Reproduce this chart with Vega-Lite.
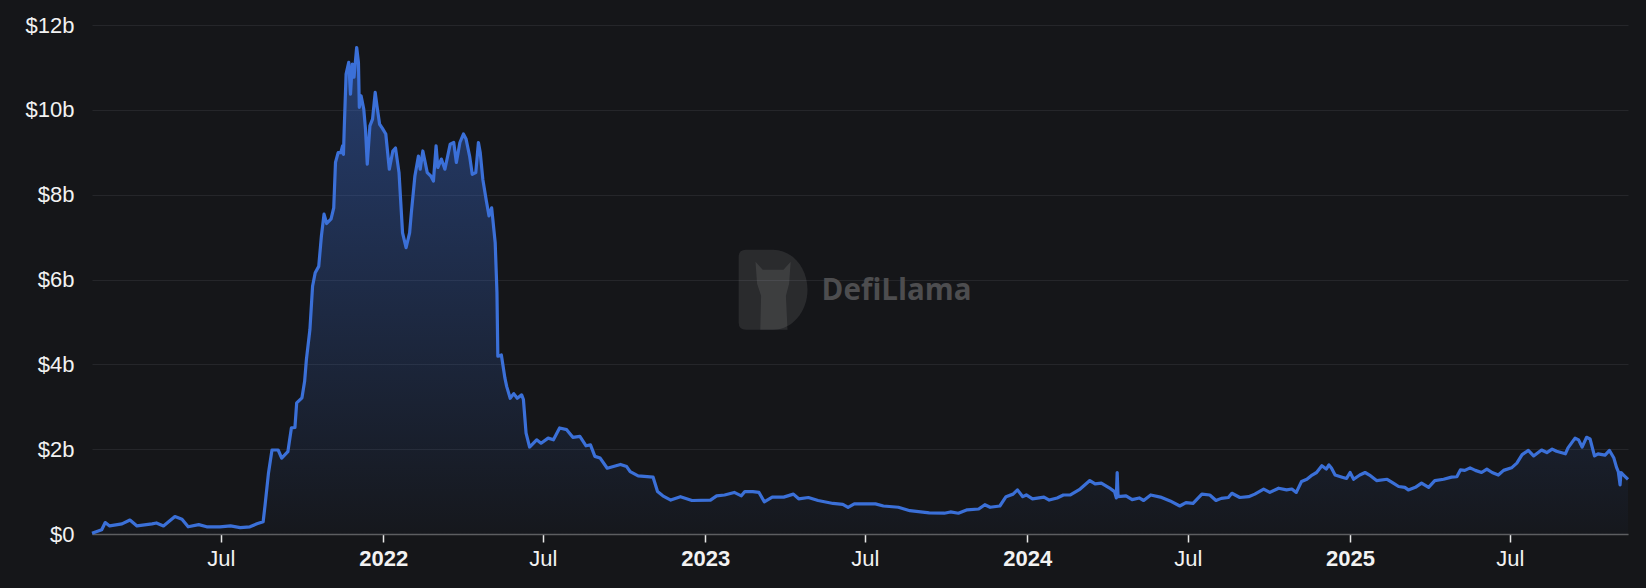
{
  "$schema": "https://vega.github.io/schema/vega-lite/v6.json",
  "autosize": {"type": "none"},
  "width": 1536,
  "height": 509,
  "padding": {"left": 92, "top": 25, "right": 18, "bottom": 54},
  "background": "#151619",
  "config": {"view": {"stroke": null}, "font": "Liberation Sans"},
  "data": {"values": [
    {"date":"2021-02-05","tvl":0.02},{"date":"2021-02-16","tvl":0.10},{"date":"2021-02-20","tvl":0.27},{"date":"2021-02-25","tvl":0.19},{"date":"2021-03-11","tvl":0.24},{"date":"2021-03-20","tvl":0.33},{"date":"2021-03-28","tvl":0.19},{"date":"2021-04-14","tvl":0.24},{"date":"2021-04-19","tvl":0.26},{"date":"2021-04-27","tvl":0.19},{"date":"2021-05-10","tvl":0.41},{"date":"2021-05-18","tvl":0.35},{"date":"2021-05-25","tvl":0.17},{"date":"2021-06-06","tvl":0.22},{"date":"2021-06-15","tvl":0.17},{"date":"2021-06-30","tvl":0.17},{"date":"2021-07-12","tvl":0.19},{"date":"2021-07-23","tvl":0.15},{"date":"2021-08-03","tvl":0.17},{"date":"2021-08-11","tvl":0.24},{"date":"2021-08-18","tvl":0.29},{"date":"2021-08-20","tvl":0.65},{"date":"2021-08-24","tvl":1.43},{"date":"2021-08-28","tvl":1.98},
    {"date":"2021-09-04","tvl":1.98},{"date":"2021-09-08","tvl":1.79},{"date":"2021-09-15","tvl":1.94},{"date":"2021-09-19","tvl":2.50},{"date":"2021-09-23","tvl":2.51},{"date":"2021-09-25","tvl":3.09},{"date":"2021-10-01","tvl":3.21},{"date":"2021-10-04","tvl":3.6},{"date":"2021-10-06","tvl":4.11},{"date":"2021-10-10","tvl":4.82},{"date":"2021-10-13","tvl":5.84},{"date":"2021-10-16","tvl":6.16},{"date":"2021-10-20","tvl":6.31},{"date":"2021-10-23","tvl":7.02},{"date":"2021-10-26","tvl":7.54},{"date":"2021-10-29","tvl":7.32},{"date":"2021-11-03","tvl":7.43},{"date":"2021-11-06","tvl":7.69},{"date":"2021-11-08","tvl":8.76},{"date":"2021-11-11","tvl":8.99},{"date":"2021-11-14","tvl":8.99},{"date":"2021-11-16","tvl":9.15},{"date":"2021-11-17","tvl":8.95},{"date":"2021-11-18","tvl":9.62},{"date":"2021-11-20","tvl":10.84},{"date":"2021-11-23","tvl":11.12},{"date":"2021-11-25","tvl":10.37},{"date":"2021-11-27","tvl":11.08},{"date":"2021-11-29","tvl":10.77},{"date":"2021-12-02","tvl":11.47},{"date":"2021-12-04","tvl":11.12},{"date":"2021-12-05","tvl":10.06},{"date":"2021-12-07","tvl":10.33},{"date":"2021-12-10","tvl":10.02},{"date":"2021-12-12","tvl":9.54},{"date":"2021-12-14","tvl":8.72},{"date":"2021-12-17","tvl":9.62},{"date":"2021-12-20","tvl":9.78},{"date":"2021-12-23","tvl":10.41},{"date":"2021-12-25","tvl":10.09},{"date":"2021-12-28","tvl":9.66},{"date":"2021-12-31","tvl":9.57},
    {"date":"2022-01-04","tvl":9.43},{"date":"2022-01-08","tvl":8.6},{"date":"2022-01-12","tvl":9.03},{"date":"2022-01-15","tvl":9.1},{"date":"2022-01-19","tvl":8.52},{"date":"2022-01-23","tvl":7.10},{"date":"2022-01-27","tvl":6.75},{"date":"2022-01-31","tvl":7.10},{"date":"2022-02-02","tvl":7.58},{"date":"2022-02-06","tvl":8.44},{"date":"2022-02-10","tvl":8.91},{"date":"2022-02-12","tvl":8.6},{"date":"2022-02-15","tvl":9.03},{"date":"2022-02-20","tvl":8.52},{"date":"2022-02-24","tvl":8.44},{"date":"2022-02-27","tvl":8.32},{"date":"2022-03-02","tvl":9.15},{"date":"2022-03-04","tvl":8.64},{"date":"2022-03-08","tvl":8.84},{"date":"2022-03-12","tvl":8.6},{"date":"2022-03-18","tvl":9.19},{"date":"2022-03-22","tvl":9.23},{"date":"2022-03-25","tvl":8.76},{"date":"2022-03-29","tvl":9.23},{"date":"2022-04-02","tvl":9.43},{"date":"2022-04-05","tvl":9.31},{"date":"2022-04-09","tvl":8.91},{"date":"2022-04-12","tvl":8.48},{"date":"2022-04-16","tvl":8.52},{"date":"2022-04-19","tvl":9.23},{"date":"2022-04-21","tvl":9.0},{"date":"2022-04-24","tvl":8.36},{"date":"2022-04-28","tvl":7.85},{"date":"2022-05-01","tvl":7.50},{"date":"2022-05-04","tvl":7.69},{"date":"2022-05-08","tvl":6.87},{"date":"2022-05-10","tvl":5.69},{"date":"2022-05-11","tvl":4.19},{"date":"2022-05-15","tvl":4.22},{"date":"2022-05-19","tvl":3.68},{"date":"2022-05-21","tvl":3.48},{"date":"2022-05-25","tvl":3.2},{"date":"2022-05-29","tvl":3.31},{"date":"2022-06-02","tvl":3.2},{"date":"2022-06-07","tvl":3.28},{"date":"2022-06-09","tvl":3.17},{"date":"2022-06-12","tvl":2.38},{"date":"2022-06-16","tvl":2.05},{"date":"2022-06-24","tvl":2.22},{"date":"2022-06-29","tvl":2.14},{"date":"2022-07-07","tvl":2.26},{"date":"2022-07-13","tvl":2.22},{"date":"2022-07-20","tvl":2.50},{"date":"2022-07-28","tvl":2.46},{"date":"2022-08-04","tvl":2.28},{"date":"2022-08-12","tvl":2.3},{"date":"2022-08-19","tvl":2.08},{"date":"2022-08-24","tvl":2.1},{"date":"2022-08-29","tvl":1.83},{"date":"2022-09-04","tvl":1.79},{"date":"2022-09-12","tvl":1.55},{"date":"2022-09-27","tvl":1.64},{"date":"2022-10-04","tvl":1.59},{"date":"2022-10-08","tvl":1.47},{"date":"2022-10-17","tvl":1.37},{"date":"2022-11-03","tvl":1.34},{"date":"2022-11-08","tvl":1.0},{"date":"2022-11-14","tvl":0.90},{"date":"2022-11-23","tvl":0.80},{"date":"2022-12-04","tvl":0.88},{"date":"2022-12-17","tvl":0.79},
    {"date":"2023-01-07","tvl":0.80},{"date":"2023-01-14","tvl":0.90},{"date":"2023-01-23","tvl":0.92},{"date":"2023-02-03","tvl":0.98},{"date":"2023-02-11","tvl":0.90},{"date":"2023-02-15","tvl":1.0},{"date":"2023-02-24","tvl":1.0},{"date":"2023-03-03","tvl":0.98},{"date":"2023-03-09","tvl":0.76},{"date":"2023-03-18","tvl":0.87},{"date":"2023-03-31","tvl":0.87},{"date":"2023-04-11","tvl":0.94},{"date":"2023-04-17","tvl":0.83},{"date":"2023-04-28","tvl":0.86},{"date":"2023-05-09","tvl":0.79},{"date":"2023-05-26","tvl":0.72},{"date":"2023-06-06","tvl":0.70},{"date":"2023-06-12","tvl":0.63},{"date":"2023-06-19","tvl":0.71},{"date":"2023-07-04","tvl":0.71},{"date":"2023-07-13","tvl":0.71},{"date":"2023-07-22","tvl":0.66},{"date":"2023-08-08","tvl":0.63},{"date":"2023-08-21","tvl":0.55},{"date":"2023-09-12","tvl":0.50},{"date":"2023-09-29","tvl":0.49},{"date":"2023-10-06","tvl":0.52},{"date":"2023-10-15","tvl":0.49},{"date":"2023-10-25","tvl":0.57},{"date":"2023-11-07","tvl":0.59},{"date":"2023-11-14","tvl":0.69},{"date":"2023-11-20","tvl":0.63},{"date":"2023-12-01","tvl":0.66},{"date":"2023-12-08","tvl":0.88},{"date":"2023-12-16","tvl":0.94},{"date":"2023-12-21","tvl":1.04},{"date":"2023-12-27","tvl":0.88},{"date":"2023-12-31","tvl":0.92},
    {"date":"2024-01-07","tvl":0.83},{"date":"2024-01-20","tvl":0.87},{"date":"2024-01-26","tvl":0.80},{"date":"2024-02-04","tvl":0.85},{"date":"2024-02-11","tvl":0.92},{"date":"2024-02-19","tvl":0.92},{"date":"2024-03-01","tvl":1.06},{"date":"2024-03-12","tvl":1.26},{"date":"2024-03-18","tvl":1.18},{"date":"2024-03-25","tvl":1.2},{"date":"2024-04-03","tvl":1.09},{"date":"2024-04-09","tvl":1.0},{"date":"2024-04-11","tvl":0.85},{"date":"2024-04-12","tvl":1.45},{"date":"2024-04-13","tvl":0.88},{"date":"2024-04-22","tvl":0.9},{"date":"2024-04-29","tvl":0.81},{"date":"2024-05-07","tvl":0.85},{"date":"2024-05-12","tvl":0.79},{"date":"2024-05-20","tvl":0.92},{"date":"2024-05-31","tvl":0.87},{"date":"2024-06-11","tvl":0.78},{"date":"2024-06-22","tvl":0.66},{"date":"2024-06-29","tvl":0.74},{"date":"2024-07-07","tvl":0.72},{"date":"2024-07-17","tvl":0.94},{"date":"2024-07-26","tvl":0.92},{"date":"2024-08-02","tvl":0.79},{"date":"2024-08-08","tvl":0.84},{"date":"2024-08-16","tvl":0.86},{"date":"2024-08-20","tvl":0.96},{"date":"2024-08-29","tvl":0.86},{"date":"2024-09-08","tvl":0.88},{"date":"2024-09-15","tvl":0.94},{"date":"2024-09-25","tvl":1.06},{"date":"2024-10-02","tvl":0.98},{"date":"2024-10-12","tvl":1.08},{"date":"2024-10-21","tvl":1.04},{"date":"2024-10-27","tvl":1.06},{"date":"2024-11-01","tvl":0.98},{"date":"2024-11-07","tvl":1.24},{"date":"2024-11-13","tvl":1.29},{"date":"2024-11-19","tvl":1.39},{"date":"2024-11-24","tvl":1.45},{"date":"2024-11-30","tvl":1.61},{"date":"2024-12-05","tvl":1.53},{"date":"2024-12-08","tvl":1.63},{"date":"2024-12-11","tvl":1.55},{"date":"2024-12-15","tvl":1.39},{"date":"2024-12-23","tvl":1.34},{"date":"2024-12-28","tvl":1.31},
    {"date":"2025-01-01","tvl":1.45},{"date":"2025-01-05","tvl":1.29},{"date":"2025-01-12","tvl":1.39},{"date":"2025-01-18","tvl":1.45},{"date":"2025-01-23","tvl":1.39},{"date":"2025-01-31","tvl":1.26},{"date":"2025-02-12","tvl":1.29},{"date":"2025-02-19","tvl":1.20},{"date":"2025-02-25","tvl":1.12},{"date":"2025-03-04","tvl":1.10},{"date":"2025-03-08","tvl":1.04},{"date":"2025-03-16","tvl":1.10},{"date":"2025-03-23","tvl":1.20},{"date":"2025-03-31","tvl":1.10},{"date":"2025-04-07","tvl":1.26},{"date":"2025-04-17","tvl":1.29},{"date":"2025-04-26","tvl":1.34},{"date":"2025-05-02","tvl":1.35},{"date":"2025-05-06","tvl":1.51},{"date":"2025-05-11","tvl":1.50},{"date":"2025-05-17","tvl":1.56},{"date":"2025-05-23","tvl":1.50},{"date":"2025-05-30","tvl":1.45},{"date":"2025-06-05","tvl":1.53},{"date":"2025-06-11","tvl":1.45},{"date":"2025-06-18","tvl":1.39},{"date":"2025-06-24","tvl":1.50},{"date":"2025-07-03","tvl":1.56},{"date":"2025-07-09","tvl":1.67},{"date":"2025-07-15","tvl":1.87},{"date":"2025-07-22","tvl":1.97},{"date":"2025-07-28","tvl":1.84},{"date":"2025-08-06","tvl":1.98},{"date":"2025-08-12","tvl":1.92},{"date":"2025-08-18","tvl":2.0},{"date":"2025-08-23","tvl":1.95},{"date":"2025-09-02","tvl":1.89},{"date":"2025-09-05","tvl":2.03},{"date":"2025-09-13","tvl":2.26},{"date":"2025-09-17","tvl":2.22},{"date":"2025-09-21","tvl":2.05},{"date":"2025-09-26","tvl":2.28},{"date":"2025-09-30","tvl":2.24},{"date":"2025-10-05","tvl":1.84},{"date":"2025-10-09","tvl":1.89},{"date":"2025-10-17","tvl":1.86},{"date":"2025-10-22","tvl":1.97},{"date":"2025-10-27","tvl":1.79},{"date":"2025-10-30","tvl":1.57},{"date":"2025-11-01","tvl":1.47},{"date":"2025-11-03","tvl":1.16},{"date":"2025-11-04","tvl":1.45},{"date":"2025-11-07","tvl":1.39},{"date":"2025-11-12","tvl":1.29}
  ]},
  "layer": [
    {
      "data": {"values": [{}]},
      "mark": {"type": "point", "filled": true, "fill": "#ffffff", "fillOpacity": 0.09, "strokeWidth": 0, "size": 6400,
        "shape": "M -0.86 -0.82 Q -0.86 -1 -0.68 -1 L 0 -1 A 0.86 1 0 0 1 0 1 L -0.68 1 Q -0.86 1 -0.86 0.82 Z"},
      "encoding": {
        "x": {"datum": {"year": 2023, "month": 3, "date": 19, "utc": true}, "type": "temporal"},
        "y": {"datum": 5.76, "type": "quantitative"}
      }
    },
    {
      "data": {"values": [{}]},
      "mark": {"type": "point", "filled": true, "fill": "#ffffff", "fillOpacity": 0.09, "strokeWidth": 0, "size": 6400,
        "shape": "M -0.32 1 L -0.3 0.15 L -0.4 -0.15 L -0.44 -0.7 L -0.26 -0.5 L 0.26 -0.5 L 0.44 -0.7 L 0.4 -0.15 L 0.32 0.15 L 0.36 1 Z"},
      "encoding": {
        "x": {"datum": {"year": 2023, "month": 3, "date": 19, "utc": true}, "type": "temporal"},
        "y": {"datum": 5.76, "type": "quantitative"}
      }
    },
    {
      "data": {"values": [{}]},
      "mark": {"type": "text", "text": "DefiLlama", "font": "Open Sans", "fontWeight": "bold", "fontSize": 29.5, "align": "left", "baseline": "middle", "color": "#4d4d4f"},
      "encoding": {
        "x": {"datum": {"year": 2023, "month": 5, "date": 13, "utc": true}, "type": "temporal"},
        "y": {"datum": 5.72, "type": "quantitative"}
      }
    },
    {
      "mark": {"type": "area", "interpolate": "linear",
        "color": {"gradient": "linear", "x1": 0, "y1": 0, "x2": 0, "y2": 1,
          "stops": [{"offset": 0, "color": "rgba(58,110,216,0.45)"}, {"offset": 1, "color": "rgba(58,110,216,0.02)"}]}},
      "encoding": {
        "x": {"field": "date", "type": "temporal",
          "scale": {"type": "utc", "nice": false, "domain": [{"year": 2021, "month": 2, "date": 5, "utc": true}, {"year": 2025, "month": 11, "date": 12, "utc": true}]},
          "axis": {
            "title": null, "grid": false,
            "values": [
              {"year": 2021, "month": 7, "date": 1, "utc": true},
              {"year": 2022, "month": 1, "date": 1, "utc": true},
              {"year": 2022, "month": 7, "date": 1, "utc": true},
              {"year": 2023, "month": 1, "date": 1, "utc": true},
              {"year": 2023, "month": 7, "date": 1, "utc": true},
              {"year": 2024, "month": 1, "date": 1, "utc": true},
              {"year": 2024, "month": 7, "date": 1, "utc": true},
              {"year": 2025, "month": 1, "date": 1, "utc": true},
              {"year": 2025, "month": 7, "date": 1, "utc": true}
            ],
            "labelExpr": "utcmonth(datum.value) == 0 ? utcFormat(datum.value, '%Y') : utcFormat(datum.value, '%b')",
            "labelFontWeight": {"condition": {"test": "utcmonth(datum.value) == 0", "value": "bold"}, "value": "normal"},
            "labelFontSize": 22, "labelColor": "#f2f2f2", "labelPadding": 6, "labelOverlap": false, "labelFlush": false, "labelBound": false,
            "domainColor": "#5d5e61", "domainWidth": 1.5,
            "tickColor": "#e8e8e8", "tickSize": 8, "tickWidth": 1.5
          }},
        "y": {"field": "tvl", "type": "quantitative",
          "scale": {"domain": [0, 12], "nice": false},
          "axis": {
            "title": null, "values": [0, 2, 4, 6, 8, 10, 12],
            "labelExpr": "datum.value == 0 ? '$0' : '$' + datum.value + 'b'",
            "ticks": false, "domain": false, "grid": true, "gridColor": "#25262a", "gridWidth": 1,
            "labelFontSize": 22, "labelColor": "#f2f2f2", "labelPadding": 18
          }}
      }
    },
    {
      "mark": {"type": "line", "color": "#3b70d8", "strokeWidth": 3.2, "interpolate": "linear", "strokeJoin": "round"},
      "encoding": {
        "x": {"field": "date", "type": "temporal"},
        "y": {"field": "tvl", "type": "quantitative"}
      }
    }
  ]
}
